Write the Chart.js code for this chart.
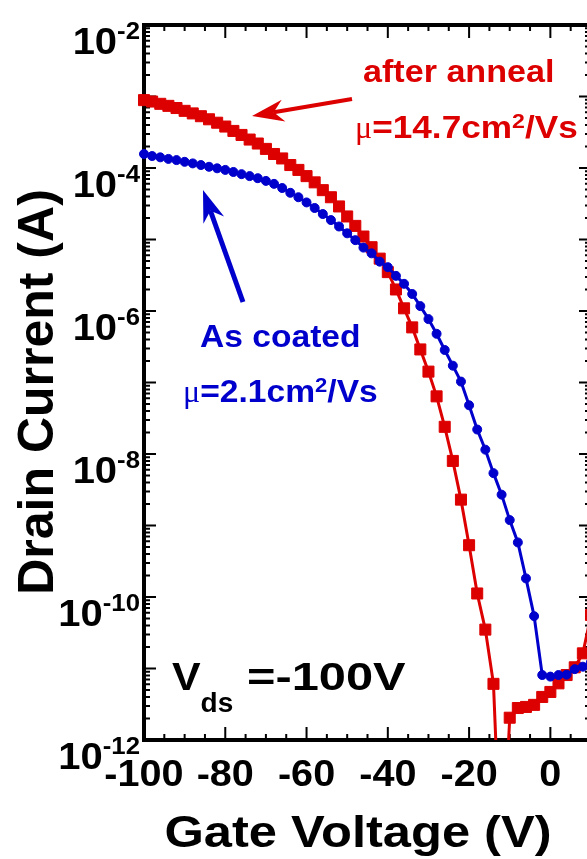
<!DOCTYPE html>
<html>
<head>
<meta charset="utf-8">
<script src="https://cdn.jsdelivr.net/npm/chart.js@4"></script>
<style>
  html, body { margin: 0; padding: 0; background: #fff; overflow: hidden; }
  canvas { display: block; }
</style>
</head>
<body>
<canvas id="transferChart" width="600" height="859"></canvas>
<script>
// Transfer curves at Vds = -100 V, before and after anneal
const gateVoltage = [
  -100, -98, -96, -94, -92, -90, -88, -86, -84, -82,
  -80, -78, -76, -74, -72, -70, -68, -66, -64, -62,
  -60, -58, -56, -54, -52, -50, -48, -46, -44, -42,
  -40, -38, -36, -34, -32, -30, -28, -26, -24, -22,
  -20, -18, -16, -14, -12, -10, -8, -6, -4, -2,
  0, 2, 4, 6, 8, 10
];
const afterAnneal = [
  8.9e-4, 8.5e-4, 7.9e-4, 7.4e-4, 6.9e-4, 6.3e-4, 5.8e-4, 5.3e-4, 4.8e-4, 4.3e-4,
  3.8e-4, 3.3e-4, 2.9e-4, 2.5e-4, 2.2e-4, 1.85e-4, 1.57e-4, 1.36e-4, 1.10e-4, 9.4e-5,
  7.7e-5, 6.3e-5, 4.9e-5, 3.9e-5, 2.9e-5, 2.1e-5, 1.55e-5, 1.1e-5, 7.8e-6, 5.4e-6,
  3.5e-6, 2.0e-6, 1.09e-6, 5.9e-7, 2.9e-7, 1.42e-7, 6.4e-8, 2.4e-8, 8.0e-9, 2.3e-9,
  5.3e-10, 1.12e-10, 3.5e-11, 6.1e-12, 1e-14, 2.05e-12, 2.8e-12, 2.9e-12, 3.1e-12, 4.0e-12,
  4.7e-12, 6.2e-12, 8.1e-12, 1.04e-11, 1.63e-11, 5.6e-11
];
const asCoated = [
  1.57e-4, 1.47e-4, 1.41e-4, 1.34e-4, 1.29e-4, 1.22e-4, 1.16e-4, 1.10e-4, 1.04e-4, 9.9e-5,
  9.4e-5, 8.8e-5, 8.2e-5, 7.7e-5, 7.2e-5, 6.6e-5, 6.0e-5, 5.25e-5, 4.5e-5, 3.9e-5,
  3.3e-5, 2.76e-5, 2.27e-5, 1.87e-5, 1.52e-5, 1.22e-5, 9.8e-6, 7.7e-6, 6.4e-6, 4.9e-6,
  4.1e-6, 3.1e-6, 2.4e-6, 1.73e-6, 1.17e-6, 7.7e-7, 4.8e-7, 2.85e-7, 1.72e-7, 1.03e-7,
  4.8e-8, 2.2e-8, 1.15e-8, 5.4e-9, 2.7e-9, 1.19e-9, 5.8e-10, 1.82e-10, 5.4e-11, 8.1e-12,
  7.7e-12, 8.1e-12, 8.2e-12, 9.8e-12, 1.06e-11, 1.23e-11
];
const xTickLabels = [-100, -80, -60, -40, -20, 0];
const xMinorStep = 5;
const yLabelExponents = [-2, -4, -6, -8, -10, -12];

const RED = '#dd0000';
const BLUE = '#0000cc';
const SANS = "'Liberation Sans', Arial, sans-serif";
const SERIF = "'Liberation Serif', 'DejaVu Serif', serif";

// draw a row of text pieces (font, offset, horizontal stretch per piece)
function runsWidth(ctx, runs) {
  let w = 0;
  runs.forEach(r => { ctx.font = r.font; w += ctx.measureText(r.text).width * (r.sx || 1); });
  return w;
}
function drawRuns(ctx, x, y, runs, align) {
  const w = runsWidth(ctx, runs);
  let cx = align === 'right' ? x - w : align === 'center' ? x - w / 2 : x;
  runs.forEach(r => {
    ctx.save();
    ctx.font = r.font;
    ctx.fillStyle = r.color || '#000';
    ctx.textAlign = 'left';
    ctx.textBaseline = 'alphabetic';
    ctx.translate(cx, y + (r.dy || 0));
    ctx.scale(r.sx || 1, 1);
    ctx.fillText(r.text, 0, 0);
    cx += ctx.measureText(r.text).width * (r.sx || 1);
    ctx.restore();
  });
}

function drawArrow(ctx, tail, tip, color, lw) {
  const dx = tip[0] - tail[0], dy = tip[1] - tail[1];
  const len = Math.hypot(dx, dy);
  const ux = dx / len, uy = dy / len, nx = -uy, ny = ux;
  const headLen = 32, half = 11, notch = 22;
  ctx.save();
  ctx.strokeStyle = color;
  ctx.fillStyle = color;
  ctx.lineWidth = lw;
  ctx.beginPath();
  ctx.moveTo(tail[0], tail[1]);
  ctx.lineTo(tip[0] - ux * notch, tip[1] - uy * notch);
  ctx.stroke();
  ctx.beginPath();
  ctx.moveTo(tip[0], tip[1]);
  ctx.lineTo(tip[0] - ux * headLen + nx * half, tip[1] - uy * headLen + ny * half);
  ctx.lineTo(tip[0] - ux * notch, tip[1] - uy * notch);
  ctx.lineTo(tip[0] - ux * headLen - nx * half, tip[1] - uy * headLen - ny * half);
  ctx.closePath();
  ctx.fill();
  ctx.restore();
}

const frameAndLabels = {
  id: 'frameAndLabels',
  beforeDatasetsDraw(chart) {
    const { ctx, chartArea: a, scales: { x, y } } = chart;
    ctx.save();
    ctx.strokeStyle = '#000';
    ctx.lineWidth = 2;
    ctx.beginPath();
    for (let v = x.min; v <= x.max; v += xMinorStep) {
      const px = x.getPixelForValue(v);
      const len = xTickLabels.includes(v) || v % 20 === 0 ? 13 : 6;
      ctx.moveTo(px, a.bottom); ctx.lineTo(px, a.bottom - len);
      ctx.moveTo(px, a.top); ctx.lineTo(px, a.top + len);
    }
    for (let e = -12; e <= -2; e++) {
      for (let m = 1; m < 10; m++) {
        if (e === -2 && m > 1) break;
        const py = y.getPixelForValue(m * Math.pow(10, e));
        const len = m === 1 ? 12 : 6;
        ctx.moveTo(a.left, py); ctx.lineTo(a.left + len, py);
        ctx.moveTo(a.right, py); ctx.lineTo(a.right - len, py);
      }
    }
    ctx.stroke();
    ctx.lineWidth = 4;
    ctx.strokeRect(a.left, a.top, a.right - a.left, a.bottom - a.top);
    ctx.restore();
  },
  afterDraw(chart) {
    const { ctx, chartArea: a, scales: { x, y } } = chart;
    // y tick labels 10^n
    yLabelExponents.forEach(e => {
      const py = y.getPixelForValue(Math.pow(10, e));
      drawRuns(ctx, 140, py + 29, [
        { text: '10', font: 'bold 37px ' + SANS, sx: 1.08 },
        { text: String(e), font: 'bold 23px ' + SANS, sx: 1.12, dy: -15 }
      ], 'right');
    });
    // x tick labels
    xTickLabels.forEach(v => {
      drawRuns(ctx, x.getPixelForValue(v), 786, [
        { text: String(v), font: 'bold 36px ' + SANS, sx: 1.1 }
      ], 'center');
    });
    // axis titles
    drawRuns(ctx, 358, 847, [{ text: 'Gate Voltage (V)', font: 'bold 44px ' + SANS, sx: 1.15 }], 'center');
    ctx.save();
    ctx.translate(35, 392);
    ctx.rotate(-Math.PI / 2);
    drawRuns(ctx, 0, 18, [{ text: 'Drain Current (A)', font: 'bold 50px ' + SANS }], 'center');
    ctx.restore();

    // annotations
    drawRuns(ctx, 363, 82, [{ text: 'after anneal', font: 'bold 31px ' + SANS, sx: 1.1, color: RED }]);
    drawRuns(ctx, 355, 138, [
      { text: 'μ', font: '32px ' + SERIF, color: RED },
      { text: '=14.7cm', font: 'bold 32px ' + SANS, sx: 1.1, color: RED },
      { text: '2', font: 'bold 21px ' + SANS, sx: 1.1, dy: -10, color: RED },
      { text: '/Vs', font: 'bold 32px ' + SANS, sx: 1.1, color: RED }
    ]);
    drawRuns(ctx, 200, 347, [{ text: 'As coated', font: 'bold 32px ' + SANS, sx: 1.05, color: BLUE }]);
    drawRuns(ctx, 183, 402, [
      { text: 'μ', font: '32px ' + SERIF, color: BLUE },
      { text: '=2.1cm', font: 'bold 32px ' + SANS, sx: 1.05, color: BLUE },
      { text: '2', font: 'bold 21px ' + SANS, sx: 1.05, dy: -10, color: BLUE },
      { text: '/Vs', font: 'bold 32px ' + SANS, sx: 1.05, color: BLUE }
    ]);
    drawRuns(ctx, 172, 690, [
      { text: 'V', font: 'bold 39px ' + SANS, sx: 1.1 },
      { text: 'ds', font: 'bold 28px ' + SANS, dy: 22 }
    ]);
    drawRuns(ctx, 247, 690, [{ text: '=-100V', font: 'bold 39px ' + SANS, sx: 1.25 }]);

    drawArrow(ctx, [352, 99], [252, 116], RED, 4);
    drawArrow(ctx, [243, 302], [203, 190], BLUE, 5);
  }
};

const ctxTransfer = document.getElementById('transferChart').getContext('2d');
const transferChart = new Chart(ctxTransfer, {
  type: 'line',
  data: {
    datasets: [{
      label: 'after anneal',
      data: gateVoltage.map((v, i) => ({ x: v, y: afterAnneal[i] })),
      borderColor: RED,
      backgroundColor: RED,
      borderWidth: 3,
      pointStyle: 'rect',
      pointRadius: 7.8,
      pointBorderWidth: 1,
      tension: 0,
      order: 2,
      clip: { left: 12, top: 12, right: 12, bottom: 0 }
    }, {
      label: 'As coated',
      data: gateVoltage.map((v, i) => ({ x: v, y: asCoated[i] })),
      borderColor: BLUE,
      backgroundColor: BLUE,
      borderWidth: 3,
      pointStyle: 'circle',
      pointRadius: 4.5,
      pointBorderWidth: 1,
      tension: 0,
      order: 1,
      clip: { left: 12, top: 12, right: 12, bottom: 0 }
    }]
  },
  options: {
    responsive: false,
    devicePixelRatio: 1,
    animation: false,
    events: [],
    layout: { padding: { left: 144, top: 25, right: 9, bottom: 119 } },
    scales: {
      x: { type: 'linear', min: -100, max: 10, display: false },
      y: { type: 'logarithmic', min: 1e-12, max: 1e-2, display: false }
    },
    plugins: {
      legend: { display: false },
      tooltip: { enabled: false }
    }
  },
  plugins: [frameAndLabels]
});
</script>
</body>
</html>
